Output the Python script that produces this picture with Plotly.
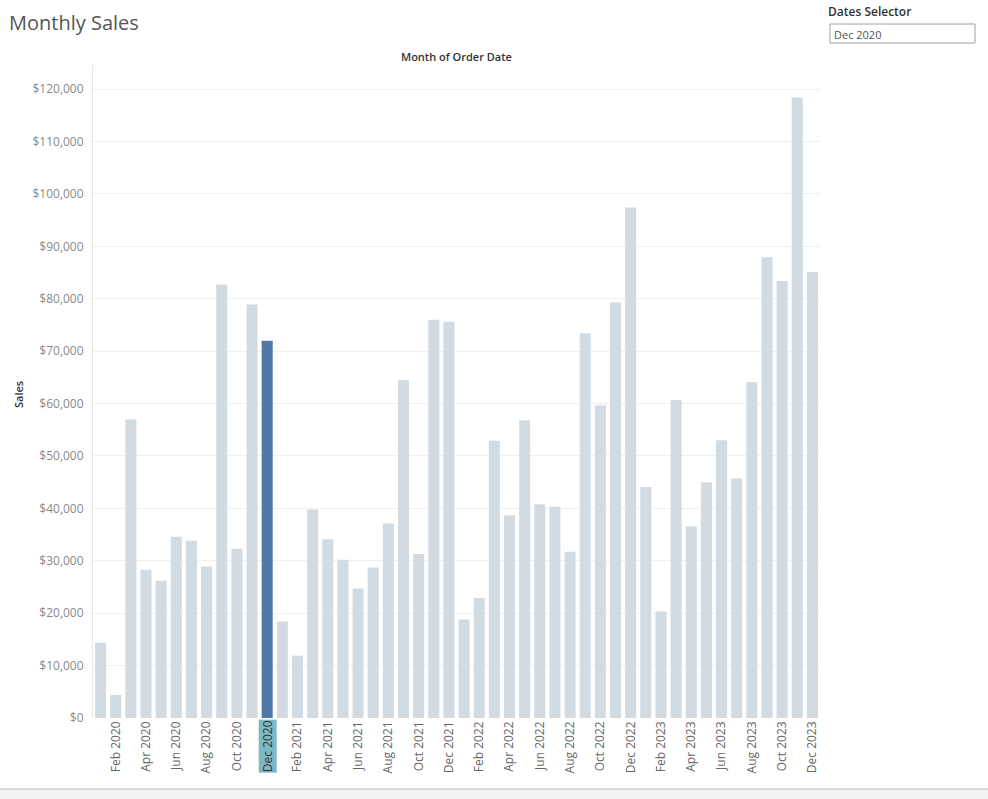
import plotly.graph_objects as go

# ---- data ----
month_names = ["Jan", "Feb", "Mar", "Apr", "May", "Jun",
               "Jul", "Aug", "Sep", "Oct", "Nov", "Dec"]
years = [2020, 2021, 2022, 2023]

sales_2020 = [14350, 4400, 57000, 28300, 26200, 34600, 33800, 28900, 82700, 32300, 78900, 72000]
sales_2021 = [18400, 11900, 39800, 34100, 30200, 24700, 28700, 37100, 64500, 31300, 76000, 75600]
sales_2022 = [18800, 22900, 52900, 38700, 56800, 40800, 40300, 31700, 73400, 59700, 79300, 97400]
sales_2023 = [44100, 20300, 60700, 36600, 45000, 53000, 45700, 64100, 87900, 83400, 118400, 85100]

y_tick_values = [0, 10000, 20000, 30000, 40000, 50000, 60000,
                 70000, 80000, 90000, 100000, 110000, 120000]

selected_month = "Dec 2020"

months = [f"{m} {y}" for y in years for m in month_names]
sales = sales_2020 + sales_2021 + sales_2022 + sales_2023

tick_months = [mo for i, mo in enumerate(months) if i % 2 == 1 and mo != selected_month]
y_tick_text = [f"${v:,}" for v in y_tick_values]

# ---- style ----
BASE = "#d3dbe2"
HILITE = "#4e79a7"
colors = [HILITE if mo == selected_month else BASE for mo in months]
FONT = "Open Sans"

# geometry (pixel -> paper helpers)
W, H = 988, 799
L, R, T, B = 93, 168, 65, 81
pw, ph = W - L - R, H - T - B
def px(x):
    return (x - L) / pw
def py(y):
    return (H - B - y) / ph

fig = go.Figure(go.Bar(
    x=months, y=sales, marker=dict(color=colors, line=dict(width=0)),
    hovertemplate="%{x}<br>$%{y:,.0f}<extra></extra>",
))

fig.update_layout(
    width=W, height=H,
    margin=dict(l=L, r=R, t=T, b=B, pad=0),
    plot_bgcolor="white", paper_bgcolor="white",
    bargap=0.27, showlegend=False,
    font=dict(family=FONT, size=12, color="#666666"),
    xaxis=dict(
        type="category", categoryorder="array", categoryarray=months,
        tickmode="array", tickvals=tick_months, ticktext=tick_months,
        tickangle=-90, showgrid=False, zeroline=False, showline=False,
        ticks="", tickfont=dict(family=FONT, size=12, color="#666666"),
        fixedrange=True,
    ),
    yaxis=dict(
        range=[0, 124600], tickmode="array",
        tickvals=y_tick_values, ticktext=y_tick_text,
        showgrid=True, gridcolor="#f0f0f0", gridwidth=1,
        zeroline=False, showline=True, linecolor="#e6e6e6", linewidth=1,
        ticks="", ticklabelstandoff=6,
        tickfont=dict(family=FONT, size=12, color="#8a8a8a"),
        fixedrange=True,
    ),
    annotations=[
        dict(text="Monthly Sales", xref="paper", yref="paper",
             x=px(7), y=py(22), xanchor="left", yanchor="middle", showarrow=False,
             font=dict(family=FONT, size=20, color="#555555")),
        dict(text="Month of Order Date", xref="paper", yref="paper",
             x=0.5, y=py(56), xanchor="center", yanchor="middle", showarrow=False,
             font=dict(family=FONT, size=11, color="#333333", weight=600)),
        dict(text="Sales", xref="paper", yref="paper",
             x=px(18), y=py(395), xanchor="center", yanchor="middle", showarrow=False,
             textangle=-90,
             font=dict(family=FONT, size=11, color="#333333", weight=600)),
        dict(text="Dates Selector", xref="paper", yref="paper",
             x=px(826), y=py(12), xanchor="left", yanchor="middle", showarrow=False,
             font=dict(family=FONT, size=12, color="#333333", weight=600)),
        dict(text="Dec 2020", xref="paper", yref="paper",
             x=px(832), y=py(34), xanchor="left", yanchor="middle", showarrow=False,
             font=dict(family=FONT, size=11, color="#555555")),
        dict(text=selected_month, xref="x", yref="paper",
             x=selected_month, y=0, yshift=-1, xanchor="center", yanchor="top",
             showarrow=False, textangle=-90, bgcolor="#7db8c5", borderpad=0,
             font=dict(family=FONT, size=12, color="#333333")),
    ],
    shapes=[
        dict(type="rect", xref="paper", yref="paper",
             x0=px(830), x1=px(975), y0=py(43), y1=py(24),
             line=dict(color="#a0a0a0", width=1), fillcolor="white", layer="above"),
        dict(type="rect", xref="paper", yref="paper",
             x0=px(0), x1=px(W), y0=py(H + 2), y1=py(789),
             line=dict(width=0), fillcolor="#f1f2f4", layer="below"),
        dict(type="line", xref="paper", yref="paper",
             x0=px(0), x1=px(W), y0=py(789), y1=py(789),
             line=dict(color="#d9d9d9", width=2), layer="below"),
    ],
)

fig.write_html(
    "out.html",
    config={"displayModeBar": False},
    post_script="document.body.style.margin='0';document.body.style.overflow='hidden';",
)
